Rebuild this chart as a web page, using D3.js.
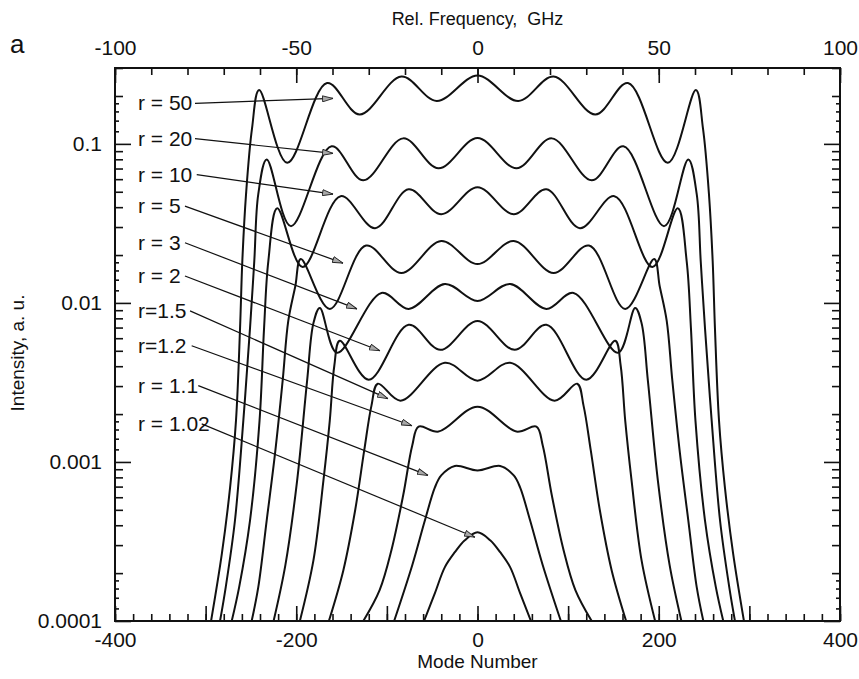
<!DOCTYPE html>
<html>
<head>
<meta charset="utf-8">
<script src="https://cdn.jsdelivr.net/npm/d3@7"></script>
<style>
  body { margin: 0; background: #fff; }
  text { font-family: "Liberation Sans", Arial, Helvetica, sans-serif; fill: #111; }
</style>
</head>
<body>
<svg id="chart" width="859" height="679"></svg>
<script>
// Spectral intensity vs mode number for several pump ratios r
const rLabels = ["r = 50", "r = 20", "r = 10", "r = 5", "r = 3", "r = 2", "r=1.5", "r=1.2", "r = 1.1", "r = 1.02"];

const r50Mode = [-294, -282, -273, -266.5, -262, -259.5, -255.4, -248.8, -241, -210, -166, -130, -84, -45, 0, 45, 84, 130, 166, 210, 241, 248.8, 255.4, 259.5, 262, 266.5, 273, 282, 294];
const r50Int  = [0.0001, 0.000267, 0.000692, 0.00182, 0.00697, 0.01834, 0.0483, 0.1251, 0.2181, 0.0760, 0.2411, 0.1531, 0.2650, 0.1861, 0.2689, 0.1861, 0.2650, 0.1531, 0.2411, 0.0760, 0.2181, 0.1251, 0.0483, 0.01834, 0.00697, 0.00182, 0.000692, 0.000267, 0.0001];

const r20Mode = [-284.1, -277.8, -267.6, -258.4, -251, -246.3, -241.9, -232.6, -206, -161, -126, -82, -43, 0, 43, 82, 126, 161, 206, 232.6, 241.9, 246.3, 251, 258.4, 267.6, 277.8, 284.1];
const r20Int  = [0.0001, 0.0001634, 0.00043, 0.00182, 0.00697, 0.01834, 0.0483, 0.0799, 0.0304, 0.0965, 0.059, 0.1083, 0.0702, 0.109, 0.0702, 0.1083, 0.059, 0.0965, 0.0304, 0.0799, 0.0483, 0.01834, 0.00697, 0.00182, 0.00043, 0.0001634, 0.0001];

const r10Mode = [-271.2, -263, -251, -240.5, -235.5, -230.8, -221, -193, -151, -113, -76, -40, 0, 40, 76, 113, 151, 193, 221, 230.8, 235.5, 240.5, 251, 263, 271.2];
const r10Int  = [0.0001, 0.0001634, 0.00043, 0.00182, 0.00697, 0.01834, 0.0394, 0.01681, 0.0469, 0.0295, 0.0518, 0.0361, 0.0534, 0.0361, 0.0518, 0.0295, 0.0469, 0.01681, 0.0394, 0.01834, 0.00697, 0.00182, 0.00043, 0.0001634, 0.0001];

const r5Mode = [-249.2, -241.9, -232.6, -223.4, -215, -208.8, -201, -195, -163, -123, -84, -40, 0, 40, 84, 123, 163, 195, 201, 208.8, 215, 223.4, 232.6, 241.9, 249.2];
const r5Int  = [0.0001, 0.0001634, 0.00043, 0.001131, 0.003243, 0.00771, 0.01278, 0.01887, 0.00917, 0.02293, 0.01542, 0.02447, 0.01756, 0.02447, 0.01542, 0.02293, 0.00917, 0.01887, 0.01278, 0.00771, 0.003243, 0.001131, 0.00043, 0.0001634, 0.0001];

const r3Mode = [-225, -212, -199, -188, -181, -174, -155, -106, -76, -36, 0, 36, 76, 106, 155, 174, 181, 188, 199, 212, 225];
const r3Int  = [0.0001, 0.0002244, 0.000766, 0.003243, 0.00749, 0.0093, 0.004859, 0.01155, 0.00917, 0.01315, 0.01029, 0.01315, 0.00917, 0.01155, 0.004859, 0.0093, 0.00749, 0.003243, 0.000766, 0.0002244, 0.0001];

const r2Mode = [-196, -181, -170, -163, -158, -152, -120, -76, -41, 0, 41, 76, 120, 152, 158, 163, 170, 181, 196];
const r2Int  = [0.0001, 0.0002412, 0.000766, 0.00182, 0.004027, 0.00578, 0.003291, 0.00728, 0.00507, 0.00771, 0.00507, 0.00728, 0.003291, 0.00578, 0.004027, 0.00182, 0.000766, 0.0002412, 0.0001];

const r15Mode = [-164, -148, -135, -125, -117, -110, -85, -36, 0, 36, 85, 110, 117, 125, 135, 148, 164];
const r15Int  = [0.0001, 0.0002088, 0.000497, 0.001181, 0.00226, 0.003106, 0.00243, 0.004205, 0.003243, 0.004205, 0.00243, 0.003106, 0.00226, 0.001181, 0.000497, 0.0002088, 0.0001];

const r12Mode = [-126, -108, -95, -82, -72, -65, -43, 0, 43, 65, 72, 82, 95, 108, 126];
const r12Int  = [0.0001, 0.0001565, 0.0002787, 0.000617, 0.001269, 0.001669, 0.001553, 0.002228, 0.001553, 0.001669, 0.001269, 0.000617, 0.0002787, 0.0001565, 0.0001];

const r11Mode = [-92, -72, -58, -47, -40, -25, 0, 25, 40, 47, 58, 72, 92];
const r11Int  = [0.0001, 0.0002244, 0.00043, 0.000692, 0.000823, 0.000944, 0.000884, 0.000944, 0.000823, 0.000692, 0.00043, 0.0002244, 0.0001];

const r102Mode = [-59, -47, -36, -25, -14, 0, 14, 25, 36, 47, 59];
const r102Int  = [0.0001, 0.0001497, 0.0002182, 0.0002707, 0.000322, 0.000361, 0.000322, 0.0002707, 0.0002182, 0.0001497, 0.0001];

// Arrow from each label to its curve: start and tip in (mode, intensity)
const arrowStartMode = [-311.7, -311.7, -309.8, -322.8, -322.8, -322.8, -317.2, -315.4, -308.1, -304.3];
const arrowStartInt  = [0.180, 0.1078, 0.0641, 0.0406, 0.0239, 0.01477, 0.00891, 0.00538, 0.00302, 0.001736];
const arrowTipMode   = [-159.4, -159.4, -159.4, -148.4, -133, -107.6, -98.8, -72.3, -54.6, -2.8];
const arrowTipInt    = [0.193, 0.0871, 0.0483, 0.0178, 0.00917, 0.0050, 0.0025, 0.00169, 0.000823, 0.000336];

// Axis tick values
const modeMajorTicks = [-400, -300, -200, -100, 0, 100, 200, 300, 400];
const modeLabelTicks = [-400, -200, 0, 200, 400];
const ghzLabelTicks  = [-100, -50, 0, 50, 100];
const intLabelTicks  = [0.0001, 0.001, 0.01, 0.1];
const intLabelText   = ["0.0001", "0.001", "0.01", "0.1"];

const curveModes = [r50Mode, r20Mode, r10Mode, r5Mode, r3Mode, r2Mode, r15Mode, r12Mode, r11Mode, r102Mode];
const curveInts  = [r50Int, r20Int, r10Int, r5Int, r3Int, r2Int, r15Int, r12Int, r11Int, r102Int];

// ---- layout ----
const plot = { left: 115, right: 840, top: 68, bottom: 621 };
const svg = d3.select("#chart");

const x = d3.scaleLinear().domain([-400, 400]).range([plot.left, plot.right]);
const ghz = d3.scaleLinear().domain([-100, 100]).range([plot.left, plot.right]);
const y = d3.scaleLog().domain([1e-4, 0.3]).range([plot.bottom, plot.top]);

// plain hyphen-minus integer labels
const intFmt = d => String(d);

// minor tick sets
const modeMinorTicks = d3.range(-400, 401, 20);
const ghzMinorTicks = d3.range(-100, 101, 10);
const ghzMajorTicks = [-100, -50, 0, 50, 100];
const intMediumTicks = [], intShortTicks = [];
[1e-4, 1e-3, 1e-2, 1e-1].forEach(d => {
  [1.2, 1.4, 1.6, 1.8].forEach(k => { if (k * d <= 0.3) intShortTicks.push(k * d); });
  d3.range(2, 10).forEach(k => { if (k * d <= 0.3001) intMediumTicks.push(k * d); });
});

function tickLayer(axis, translate) {
  const g = svg.append("g").attr("transform", translate).call(axis);
  g.select(".domain").remove();
  g.selectAll("line").attr("stroke", "#111").attr("stroke-width", 1.6);
  return g;
}

// inward ticks on all four sides
tickLayer(d3.axisBottom(x).tickValues(modeMinorTicks).tickSize(-7).tickFormat(""), `translate(0,${plot.bottom})`);
tickLayer(d3.axisBottom(x).tickValues(modeMajorTicks).tickSize(-15).tickFormat(""), `translate(0,${plot.bottom})`);
tickLayer(d3.axisTop(ghz).tickValues(ghzMinorTicks).tickSize(-7).tickFormat(""), `translate(0,${plot.top})`);
tickLayer(d3.axisTop(ghz).tickValues(ghzMajorTicks).tickSize(-15).tickFormat(""), `translate(0,${plot.top})`);
[["axisLeft", plot.left], ["axisRight", plot.right]].forEach(([fn, px]) => {
  tickLayer(d3[fn](y).tickValues(intShortTicks).tickSize(-4).tickFormat(""), `translate(${px},0)`);
  tickLayer(d3[fn](y).tickValues(intMediumTicks).tickSize(-8).tickFormat(""), `translate(${px},0)`);
  tickLayer(d3[fn](y).tickValues(intLabelTicks).tickSize(-16).tickFormat(""), `translate(${px},0)`);
});

// tick labels
function labelLayer(axis, translate) {
  const g = svg.append("g").attr("transform", translate).call(axis);
  g.select(".domain").remove();
  g.selectAll("line").remove();
  g.selectAll("text").attr("font-size", 21).attr("font-family", null).style("fill", "#111");
  return g;
}
labelLayer(d3.axisBottom(x).tickValues(modeLabelTicks).tickSize(0).tickPadding(11).tickFormat(intFmt), `translate(0,${plot.bottom})`);
labelLayer(d3.axisTop(ghz).tickValues(ghzLabelTicks).tickSize(0).tickPadding(13).tickFormat(intFmt), `translate(0,${plot.top})`);
labelLayer(d3.axisLeft(y).tickValues(intLabelTicks).tickSize(0).tickPadding(13).tickFormat((d, i) => intLabelText[i]), `translate(${plot.left},0)`);

// frame
svg.append("rect")
  .attr("x", plot.left).attr("y", plot.top)
  .attr("width", plot.right - plot.left).attr("height", plot.bottom - plot.top)
  .attr("fill", "none").attr("stroke", "#111").attr("stroke-width", 2);

// clip for curves
svg.append("clipPath").attr("id", "plotClip").append("rect")
  .attr("x", plot.left).attr("y", plot.top)
  .attr("width", plot.right - plot.left).attr("height", plot.bottom - plot.top);

const line = d3.line()
  .x(d => x(d[0]))
  .y(d => y(d[1]))
  .curve(d3.curveCatmullRom.alpha(0.5));

svg.append("g").attr("clip-path", "url(#plotClip)")
  .selectAll("path.spec")
  .data(curveModes.map((m, i) => m.map((v, j) => [v, curveInts[i][j]])))
  .join("path")
  .attr("class", "spec")
  .attr("d", line)
  .attr("fill", "none")
  .attr("stroke", "#111")
  .attr("stroke-width", 2)
  .attr("stroke-linejoin", "round");

// arrowhead marker
svg.append("defs").append("marker")
  .attr("id", "head")
  .attr("viewBox", "0 0 11 7")
  .attr("refX", 11).attr("refY", 3.5)
  .attr("markerWidth", 11).attr("markerHeight", 7)
  .attr("markerUnits", "userSpaceOnUse")
  .attr("orient", "auto")
  .append("path")
  .attr("d", "M0.5,0.5 L11,3.5 L0.5,6.5 Z")
  .attr("fill", "#a8a8a8")
  .attr("stroke", "#222")
  .attr("stroke-width", 0.9);

svg.append("g").selectAll("line.arrow")
  .data(rLabels.map((t, i) => i))
  .join("line")
  .attr("class", "arrow")
  .attr("x1", i => x(arrowStartMode[i]))
  .attr("y1", i => y(arrowStartInt[i]))
  .attr("x2", i => x(arrowTipMode[i]))
  .attr("y2", i => y(arrowTipInt[i]))
  .attr("stroke", "#111")
  .attr("stroke-width", 1.2)
  .attr("marker-end", "url(#head)");

// r labels, placed just left of each arrow start
svg.append("g").selectAll("text.rlab")
  .data(rLabels)
  .join("text")
  .attr("class", "rlab")
  .attr("x", 138)
  .attr("y", (d, i) => y(arrowStartInt[i]) + 7)
  .attr("font-size", 21)
  .text(d => d);

// axis titles
svg.append("text")
  .attr("x", (plot.left + plot.right) / 2).attr("y", 25)
  .attr("text-anchor", "middle").attr("font-size", 18)
  .style("white-space", "pre")
  .text("Rel. Frequency,  GHz");

svg.append("text")
  .attr("x", (plot.left + plot.right) / 2).attr("y", 668)
  .attr("text-anchor", "middle").attr("font-size", 19)
  .text("Mode Number");

svg.append("text")
  .attr("transform", "translate(24,353) rotate(-90)")
  .attr("text-anchor", "middle").attr("font-size", 19)
  .text("Intensity, a. u.");

svg.append("text")
  .attr("x", 10).attr("y", 53)
  .attr("font-size", 26)
  .text("a");
</script>
</body>
</html>
